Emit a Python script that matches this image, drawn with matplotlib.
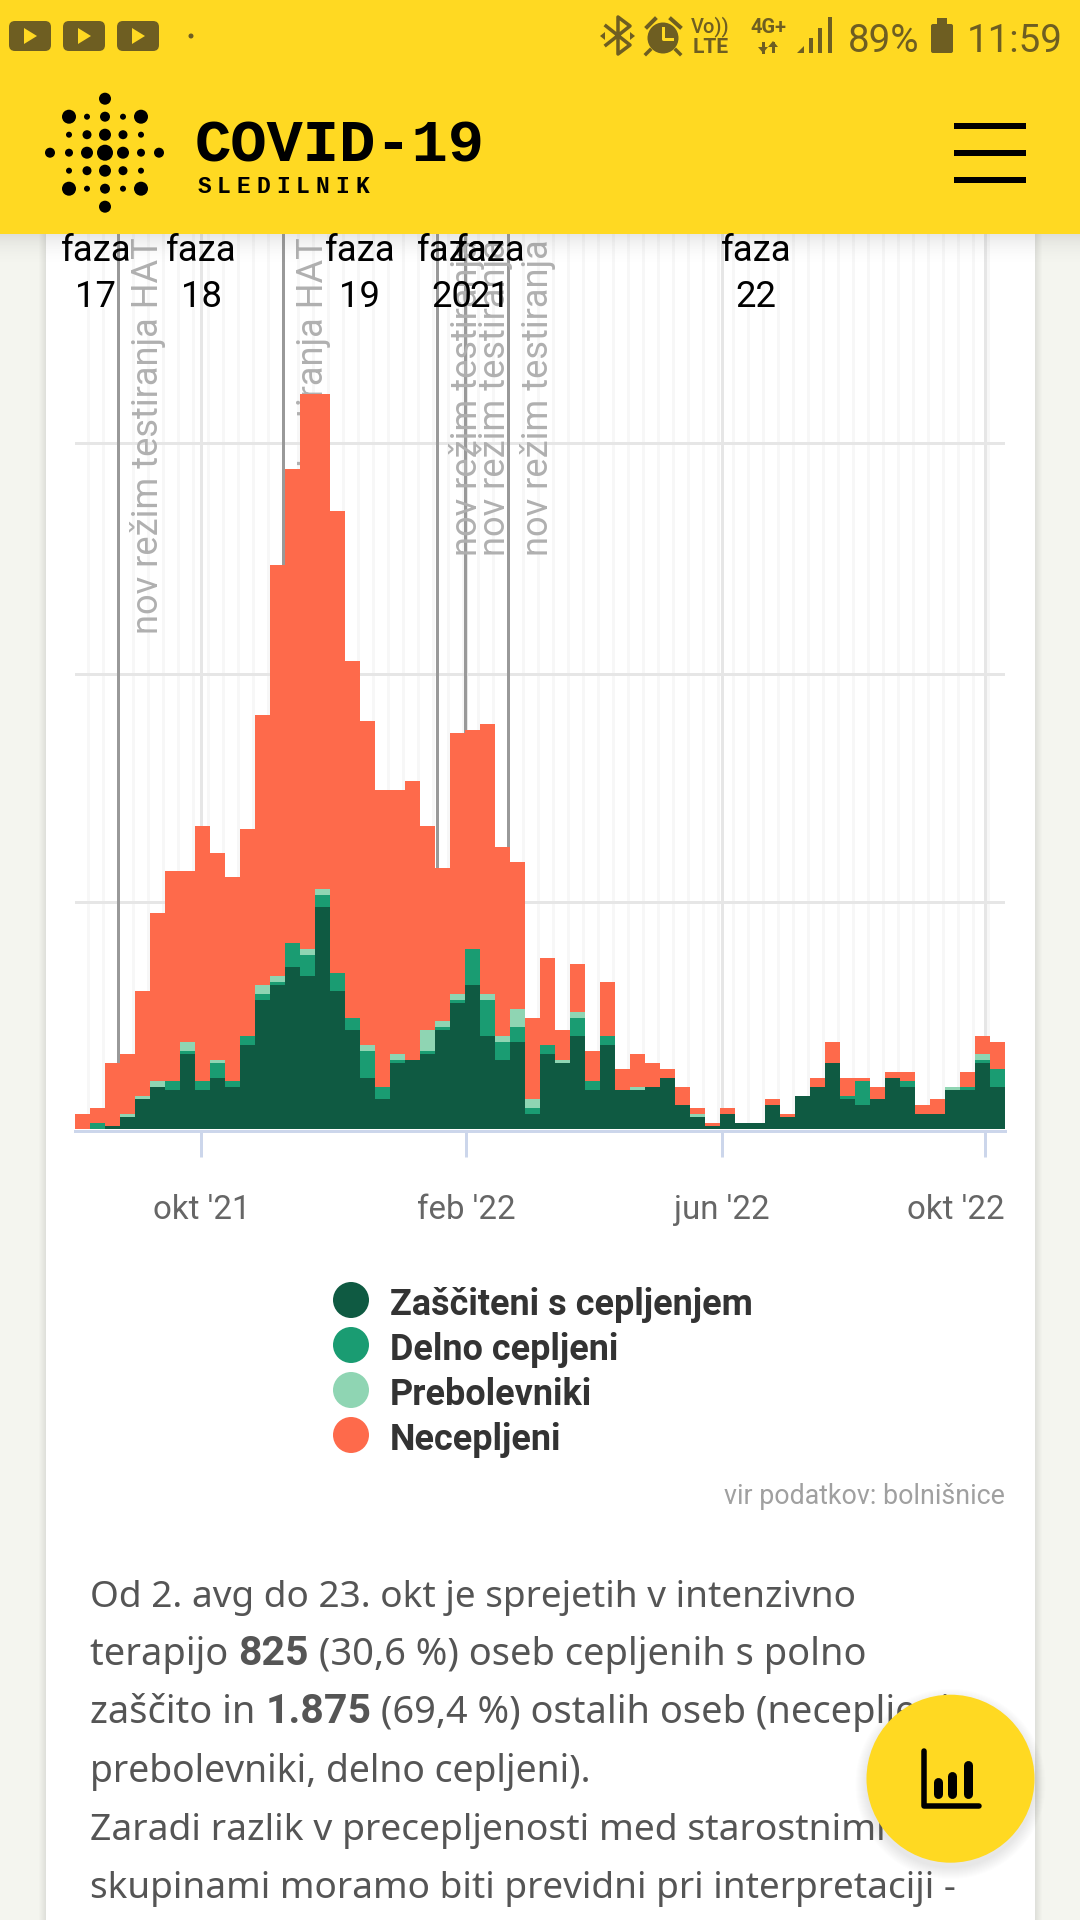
import matplotlib
matplotlib.use('Agg')
import matplotlib.pyplot as plt
import pandas as pd
from matplotlib.patches import Circle, Rectangle, FancyBboxPatch, Polygon
from matplotlib.transforms import ScaledTranslation

# --- data (patients per week) ---
FIRST_WEEK = '2021-08-02'
protected = [0, 0, 1, 4, 10, 14, 13, 25, 13, 17, 14, 28, 43, 48, 54, 51, 74, 46, 33, 17, 10,
             22, 23, 25, 33, 42, 48, 31, 23, 29, 5, 25, 22, 31, 13, 28, 13, 13, 14, 17, 8,
             4, 1, 5, 2, 2, 8, 4, 11, 14, 22, 10, 8, 10, 17, 14, 5, 5, 13, 13, 22, 14]
partial = [0, 2, 0, 0, 0, 0, 3, 1, 3, 5, 2, 3, 2, 1, 8, 7, 4, 6, 4, 9, 4,
           1, 0, 1, 1, 1, 12, 12, 6, 5, 2, 3, 0, 6, 3, 3, 0, 0, 0, 0, 0,
           0, 0, 0, 0, 0, 0, 0, 0, 0, 0, 1, 8, 0, 0, 2, 0, 0, 0, 1, 1, 6]
recovered = [0, 0, 0, 1, 1, 2, 0, 3, 0, 1, 0, 0, 3, 2, 0, 2, 2, 0, 0, 2, 0,
             2, 0, 7, 2, 2, 0, 2, 2, 6, 3, 0, 1, 2, 0, 0, 0, 1, 0, 0, 0,
             1, 0, 0, 0, 0, 0, 0, 0, 0, 0, 0, 0, 0, 0, 0, 0, 0, 1, 0, 2, 0]
unvaccinated = [5, 5, 21, 20, 35, 56, 70, 57, 85, 69, 68, 69, 90, 137, 158, 185, 165, 154, 119, 108, 99,
                88, 93, 68, 51, 87, 73, 90, 63, 49, 27, 29, 10, 16, 10, 18, 7, 11, 8, 3, 6,
                2, 1, 2, 0, 0, 2, 1, 0, 3, 7, 6, 1, 4, 2, 3, 3, 5, 0, 5, 6, 9]

series_names = ['Zaščiteni s cepljenjem', 'Delno cepljeni', 'Prebolevniki', 'Necepljeni']
series_colors = ['#0f5a42', '#1a9c72', '#8fd5b3', '#fe6a4b']

grid_values = [75.6, 151.7, 228.6]
tick_dates = ['2021-09-30 00:00', '2022-01-31 12:00', '2022-05-31 00:00', '2022-09-30 18:00']
tick_labels = ["okt '21", "feb '22", "jun '22", "okt '22"]

# testing regime changes: date, label, height where the rotated label starts
regime_dates = ['2021-08-22', '2021-11-07', '2022-01-18', '2022-01-31', '2022-02-20']
regime_labels = ['nov režim testiranja HAT', 'nov režim testiranja HAT', 'nov režim testiranja',
                 'nov režim testiranja', 'nov režim testiranja']
regime_label_y = [165, 165, 191, 191, 191]

phase_names = ['17', '18', '19', '20', '21', '22']
phase_x = [96, 201, 360, 452, 490, 756]

paragraph = [
    [('Od 2. avg do 23. okt je sprejetih v intenzivno', False)],
    [('terapijo ', False), ('825', True), (' (30,6 %) oseb cepljenih s polno', False)],
    [('zaščito in ', False), ('1.875', True), (' (69,4 %) ostalih oseb (necepljeni,', False)],
    [('prebolevniki, delno cepljeni).', False)],
    [('Zaradi razlik v precepljenosti med starostnimi', False)],
    [('skupinami moramo biti previdni pri interpretaciji -', False)],
]
paragraph_y = [1607, 1665, 1723, 1782, 1840, 1898]
paragraph_size = [37, 38, 38, 37.4, 37.3, 37]

YELLOW = '#ffd922'
OLIVE = '#6e5e22'
W, H = 1080, 1920
BODY_FONT = 'Noto Sans'
BOLD_FONT = 'Roboto'


def px(n):
    # pixels to points at dpi 100
    return n * 0.72


plt.rcParams['font.family'] = ['Roboto', 'DejaVu Sans']
fig = plt.figure(figsize=(10.8, 19.2), dpi=100, facecolor='#f4f5ef')

# --- page background and card ---
bg = fig.add_axes([0, 0, 1, 1], zorder=0)
bg.set_xlim(0, W)
bg.set_ylim(H, 0)
bg.axis('off')
for i in range(8):
    bg.add_patch(Rectangle((46 - i, 0), 989 + 2 * i, H, fc='#888888', alpha=0.025, lw=0))
bg.add_patch(Rectangle((46, 0), 989, H, fc='white', lw=0))

# --- chart: 15 px per week, 3 px per patient, baseline at y=1129 ---
ax = fig.add_axes([75 / W, 1 - 1129 / H, 930 / W, (1129 - 233) / H], zorder=1)
ax.patch.set_alpha(0)
weeks = pd.date_range(FIRST_WEEK, periods=len(protected), freq='7D')
bar_width = pd.Timedelta(days=7)
bottom = [0] * len(weeks)
for values, name, color in zip([protected, partial, recovered, unvaccinated], series_names, series_colors):
    ax.bar(weeks, values, width=bar_width, bottom=bottom, align='edge', color=color, lw=0, zorder=3, label=name)
    bottom = [b + v for b, v in zip(bottom, values)]

ax.set_xlim(weeks[0], weeks[-1] + bar_width)
ax.set_ylim(0, (1129 - 233) / 3)
ax.set_yticks(grid_values)
ax.set_yticklabels([])
ax.set_xticks(pd.to_datetime(tick_dates))
ax.set_xticklabels(tick_labels)
ax.set_xticks(weeks[1:] - pd.Timedelta(days=1), minor=True)
ax.set_axisbelow(True)
ax.grid(which='minor', axis='x', color='#f7f7f7', lw=px(3))
ax.grid(which='major', axis='both', color='#e6e6e6', lw=px(3))
ax.tick_params(axis='y', length=0)
ax.tick_params(axis='x', which='minor', length=0)
ax.tick_params(axis='x', which='major', length=px(26), width=px(3), color='#ccd6eb', pad=px(37.5),
               labelsize=px(33), labelcolor='#666666')
for side in ['top', 'left', 'right']:
    ax.spines[side].set_visible(False)
ax.spines['bottom'].set_color('#ccd6eb')
ax.spines['bottom'].set_linewidth(px(3))
ax.spines['bottom'].set_position(('outward', px(1.5)))
last_label = ax.get_xticklabels()[3]
last_label.set_transform(last_label.get_transform() + ScaledTranslation(-0.29, 0, fig.dpi_scale_trans))

for date, label, y in zip(regime_dates, regime_labels, regime_label_y):
    d = pd.Timestamp(date)
    ax.axvline(d, color='#999999', lw=px(3), zorder=1.5)
    ax.annotate(label, xy=(d, y), xytext=(px(12), 0), textcoords='offset points', rotation=90,
                ha='left', va='bottom', fontsize=px(36.3), color='#b0b0b0', zorder=1.6,
                annotation_clip=False)

# --- overlay: header, phase labels, legend, text ---
ui = fig.add_axes([0, 0, 1, 1], zorder=2)
ui.set_xlim(0, W)
ui.set_ylim(H, 0)
ui.axis('off')
ui.patch.set_alpha(0)

for i in range(32):
    ui.add_patch(Rectangle((0, 233 + i), W, 1, fc='#666666', alpha=0.16 * (1 - i / 32) ** 2, lw=0))
ui.add_patch(Rectangle((0, 0), W, 233.5, fc=YELLOW, lw=0))

for name, x in zip(phase_names, phase_x):
    ui.text(x, 261, 'faza', ha='center', va='baseline', fontsize=px(36.5), color='black')
    ui.text(x, 307, name, ha='center', va='baseline', fontsize=px(36.5), color='black')

# status bar, left icons
for x0 in [9, 63, 117]:
    ui.add_patch(FancyBboxPatch((x0 + 5, 26), 32, 20, boxstyle='round,pad=5,rounding_size=6', fc=OLIVE, lw=0))
    ui.add_patch(Polygon([(x0 + 15, 28), (x0 + 15, 44), (x0 + 28, 36)], fc=YELLOW, lw=0))
ui.add_patch(Circle((191, 36), 2.5, fc=OLIVE, lw=0))

# status bar, right icons
ui.plot([606, 630, 618, 618, 630, 606], [26, 45, 54, 17, 26, 45], color=OLIVE, lw=px(3.5))
ui.add_patch(Polygon([(600, 36), (605, 32), (605, 40)], fc=OLIVE, lw=0))
ui.add_patch(Polygon([(635, 36), (630, 32), (630, 40)], fc=OLIVE, lw=0))
ui.add_patch(Circle((663, 38), 15.5, fc=OLIVE, lw=0))
ui.plot([663, 663, 672], [28, 39, 39], color=YELLOW, lw=px(3))
ui.plot([647, 655], [27, 19], color=OLIVE, lw=px(4))
ui.plot([671, 680], [19, 27], color=OLIVE, lw=px(4))
ui.plot([650, 646], [50, 54], color=OLIVE, lw=px(3.5))
ui.plot([676, 680], [50, 54], color=OLIVE, lw=px(3.5))
ui.text(710, 32, 'Vo))', ha='center', va='baseline', fontsize=px(20), color=OLIVE, weight='medium')
ui.text(711, 53, 'LTE', ha='center', va='baseline', fontsize=px(21), color=OLIVE, weight='bold')
ui.text(768, 33, '4G+', ha='center', va='baseline', fontsize=px(20), color=OLIVE, weight='bold')
ui.plot([763, 763], [43, 52], color=OLIVE, lw=px(3))
ui.add_patch(Polygon([(758, 47), (768, 47), (763, 53)], fc=OLIVE, lw=0))
ui.plot([773, 773], [43, 51], color=OLIVE, lw=px(3))
ui.add_patch(Polygon([(768, 47), (778, 47), (773, 41)], fc=OLIVE, lw=0))
ui.add_patch(Polygon([(797, 53), (804, 53), (804, 46)], fc=OLIVE, lw=0))
ui.add_patch(Rectangle((809, 38), 4, 15, fc=OLIVE, lw=0))
ui.add_patch(Rectangle((818, 28), 4, 25, fc=OLIVE, lw=0))
ui.add_patch(Rectangle((828, 17), 4, 36, fc=OLIVE, lw=0))
ui.text(848, 52, '89%', ha='left', va='baseline', fontsize=px(38.5), color=OLIVE)
ui.add_patch(FancyBboxPatch((931, 24), 22, 29, boxstyle='round,pad=0,rounding_size=2', fc=OLIVE, lw=0))
ui.add_patch(Rectangle((937, 18), 10, 6, fc=OLIVE, lw=0))
ui.text(1063, 52, '11:59', ha='right', va='baseline', fontsize=px(38.5), color=OLIVE)

# logo dots
cols = [50, 69, 87, 105, 123, 141, 159]
rows = [98.7, 116.7, 134.7, 152.7, 170.7, 188.7, 206.7]
dot_sizes = [
    [0, 0, 0, 6, 0, 0, 0],
    [0, 7, 3, 5, 3, 7, 0],
    [0, 3, 4.5, 6, 4.5, 3, 0],
    [5, 4, 6, 8, 6, 4, 5],
    [0, 3, 4.5, 6, 4.5, 3, 0],
    [0, 7, 3, 5, 3, 7, 0],
    [0, 0, 0, 6, 0, 0, 0],
]
for row_y, sizes in zip(rows, dot_sizes):
    for col_x, r in zip(cols, sizes):
        if r:
            ui.add_patch(Circle((col_x, row_y), r, fc='black', lw=0))

ui.text(195, 161, 'COVID-19', family='Liberation Mono', weight='bold', fontsize=px(60.5),
        ha='left', va='baseline', color='black')
for i, letter in enumerate('SLEDILNIK'):
    ui.text(204 + i * 19.8, 193, letter, family='Liberation Mono', weight='bold', fontsize=px(23),
            ha='center', va='baseline', color='black')
for y in [123, 150, 177]:
    ui.add_patch(Rectangle((954, y), 72, 6, fc='black', lw=0))

# legend
for y, name, color in zip([1300, 1345, 1390, 1435], series_names, series_colors):
    ui.add_patch(Circle((351, y), 18, fc=color, lw=0))
    ui.text(390, y + 15, name, fontsize=px(36), weight='bold', color='#333333', ha='left', va='baseline')

ui.text(1005, 1504, 'vir podatkov: bolnišnice', fontsize=px(26.8), color='#a0a0a0', ha='right', va='baseline')

# paragraph, mixed regular and bold runs
renderer = fig.canvas.get_renderer()


def run_style(is_bold, size):
    if is_bold:
        return dict(family=BOLD_FONT, weight='bold', fontsize=px(41))
    return dict(family=BODY_FONT, weight='normal', fontsize=px(size))


def run_width(s, style):
    # measure with a bar on the end so trailing spaces count
    t = ui.text(0, 0, s + '|', **style)
    w = t.get_window_extent(renderer).width
    t.set_text('|')
    w -= t.get_window_extent(renderer).width
    t.remove()
    return w


for line, y, size in zip(paragraph, paragraph_y, paragraph_size):
    x = 90
    for s, is_bold in line:
        style = run_style(is_bold, size)
        ui.text(x, y, s, color='#555555', ha='left', va='baseline', **style)
        x += run_width(s, style)

# floating button
for i in range(12):
    ui.add_patch(Circle((950.5, 1784), 84 + i, fc='#555555', alpha=0.012, lw=0, zorder=5))
ui.add_patch(Circle((950.5, 1778.7), 84, fc=YELLOW, lw=0, zorder=6))
ui.plot([924, 924, 979], [1751, 1805.5, 1805.5], color='black', lw=px(5.5), zorder=7,
        solid_capstyle='round', solid_joinstyle='round')
for x, top in zip([937.5, 952, 967.5], [1778, 1772, 1761]):
    ui.plot([x, x], [top + 4, 1794], color='black', lw=px(9), zorder=7, solid_capstyle='round')

fig.savefig('out.png', dpi=100, facecolor=fig.get_facecolor())
